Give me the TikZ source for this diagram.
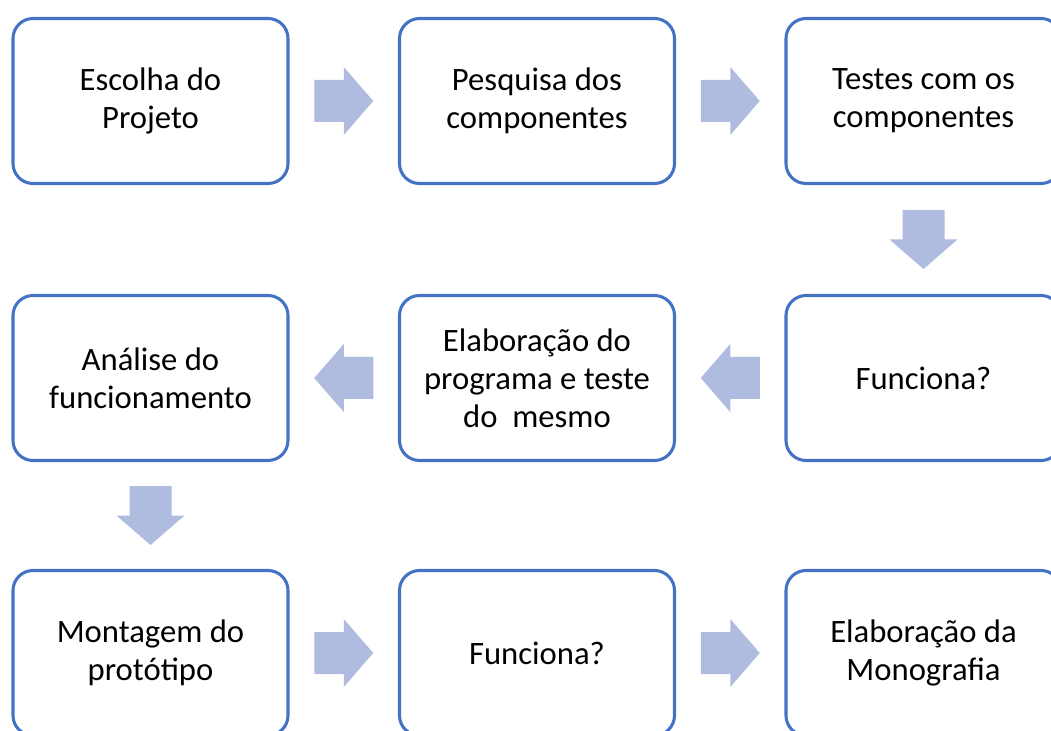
\documentclass[tikz,border=0pt]{standalone}
\usepackage{fontspec}
\setmainfont{Carlito}
\usetikzlibrary{calc}
\definecolor{boxblue}{HTML}{4472C4}
\definecolor{arrowfill}{HTML}{AFBCDF}
\tikzset{
  stepbox/.style={draw=boxblue, line width=2.3pt, rounded corners=15pt, fill=white,
    minimum width=275*0.75pt, minimum height=165*0.75pt, align=center, inner sep=0pt,
    font=\fontsize{24.5pt}{28.5pt}\selectfont, text=black},
  blockarrow/.pic={\fill[arrowfill] (-29.5,-21) -- (0,-21) -- (0,-34) -- (29.5,0) -- (0,34) -- (0,21) -- (-29.5,21) -- cycle;}
}
\begin{document}
\begin{tikzpicture}[x=0.75pt, y=-0.75pt]
\useasboundingbox (0,0) rectangle (1051,731);
\clip (0,0) rectangle (1051,731);
\node[stepbox] (a) at (150.5,101) {Escolha do\\Projeto};
\node[stepbox] (b) at (537,101) {Pesquisa dos\\componentes};
\node[stepbox] (c) at (923.5,101) {Testes com os\\componentes};
\node[stepbox] (d) at (923.5,378) {Funciona?};
\node[stepbox] (e) at (537,378) {Elaboração do\\programa e teste\\do~\ mesmo};
\node[stepbox] (f) at (150.5,378) {Análise do\\funcionamento};
\node[stepbox] (g) at (150.5,653) {Montagem do\\protótipo};
\node[stepbox] (h) at (537,653) {Funciona?};
\node[stepbox] (i) at (923.5,653) {Elaboração da\\Monografia};
\pic at ($(a.east)!0.5!(b.west)$) {blockarrow};
\pic at ($(b.east)!0.5!(c.west)$) {blockarrow};
\pic[rotate=-90] at ($(c.south)!0.5!(d.north)$) {blockarrow};
\pic[rotate=180] at ($(d.west)!0.5!(e.east)$) {blockarrow};
\pic[rotate=180] at ($(e.west)!0.5!(f.east)$) {blockarrow};
\pic[rotate=-90] at ($(f.south)!0.5!(g.north)$) {blockarrow};
\pic at ($(g.east)!0.5!(h.west)$) {blockarrow};
\pic at ($(h.east)!0.5!(i.west)$) {blockarrow};
\end{tikzpicture}
\end{document}
